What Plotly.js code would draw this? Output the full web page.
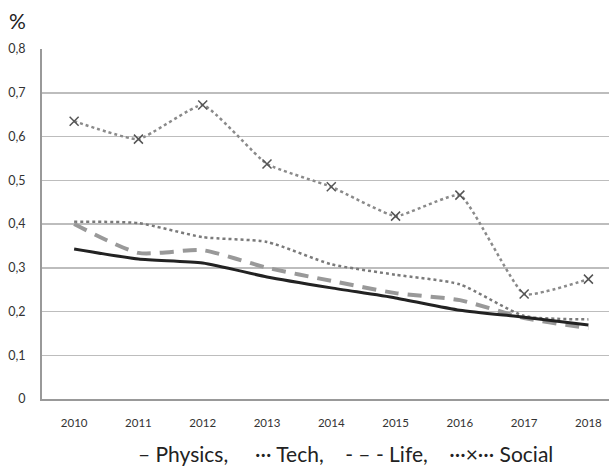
<!DOCTYPE html>
<html>
<head>
<meta charset="utf-8">
<script src="https://cdn.plot.ly/plotly-3.0.1.min.js"></script>
<style>html,body{margin:0;padding:0;background:#fff;}#chart{width:609px;height:468px;}</style>
</head>
<body>
<div id="chart"></div>
<script>
const years = ['2010','2011','2012','2013','2014','2015','2016','2017','2018'];
const physics = [0.343, 0.320, 0.311, 0.279, 0.254, 0.231, 0.203, 0.187, 0.169];
const tech    = [0.405, 0.402, 0.370, 0.359, 0.308, 0.284, 0.262, 0.190, 0.182];
const life    = [0.400, 0.334, 0.340, 0.300, 0.270, 0.242, 0.226, 0.185, 0.162];
const social  = [0.635, 0.594, 0.672, 0.537, 0.485, 0.418, 0.466, 0.240, 0.274];
const yTickVals = [0, 0.1, 0.2, 0.3, 0.4, 0.5, 0.6, 0.7, 0.8];
const yTickText = ['0', '0,1', '0,2', '0,3', '0,4', '0,5', '0,6', '0,7', '0,8'];
const legendText = '\u2013 Physics,     \u00b7\u00b7\u00b7 Tech,    - \u2013 - Life,    \u00b7\u00b7\u00b7\u00d7\u00b7\u00b7\u00b7 Social';

const FONT = 'Lato, "Open Sans", sans-serif';
const traces = [
  {x: years, y: tech, mode: 'lines', name: 'Tech',
   line: {color: '#7a7a7a', width: 2.5, dash: 'dot', shape: 'spline', smoothing: 0.6}},
  {x: years, y: social, mode: 'lines+markers', name: 'Social',
   line: {color: '#8a8a8a', width: 2.5, dash: 'dot', shape: 'spline', smoothing: 0.4},
   marker: {symbol: 'x-thin-open', size: 9, color: '#555', line: {color: '#555', width: 1.5}}},
  {x: years, y: life, mode: 'lines', name: 'Life',
   line: {color: '#999999', width: 4, dash: '14px,9px', shape: 'spline', smoothing: 0.6}},
  {x: years, y: physics, mode: 'lines', name: 'Physics',
   line: {color: '#222222', width: 3, shape: 'spline', smoothing: 0.6}}
];
const layout = {
  width: 609, height: 468,
  margin: {l: 42, r: 0, t: 49, b: 69},
  paper_bgcolor: '#fff', plot_bgcolor: '#fff',
  showlegend: false,
  font: {family: FONT, color: '#333', size: 12},
  xaxis: {
    type: 'category', range: [-0.5, 8.32],
    showgrid: false, zeroline: false,
    showline: true, linecolor: '#999', linewidth: 2,
    ticks: '', ticklabelstandoff: 12,
    tickfont: {size: 11.5, color: '#333', family: FONT}
  },
  yaxis: {
    range: [0, 0.8], tickvals: yTickVals, ticktext: yTickText,
    showgrid: true, gridcolor: '#bdbdbd', gridwidth: 1.5,
    zeroline: false, showline: true, linecolor: '#999', linewidth: 2,
    ticks: '', ticklabelstandoff: 12,
    tickfont: {size: 12.5, color: '#333', family: FONT}
  },
  annotations: [
    {text: '%', xref: 'paper', yref: 'paper', x: -0.062, y: 1.04,
     xanchor: 'left', yanchor: 'bottom', showarrow: false,
     font: {size: 21, color: '#222', family: FONT}},
    {text: legendText, xref: 'paper', yref: 'paper', x: 0.535, y: -0.115,
     xanchor: 'center', yanchor: 'top', showarrow: false,
     font: {size: 21, color: '#222', family: FONT}}
  ]
};
Plotly.newPlot('chart', traces, layout, {displayModeBar: false, staticPlot: true});
</script>
</body>
</html>
